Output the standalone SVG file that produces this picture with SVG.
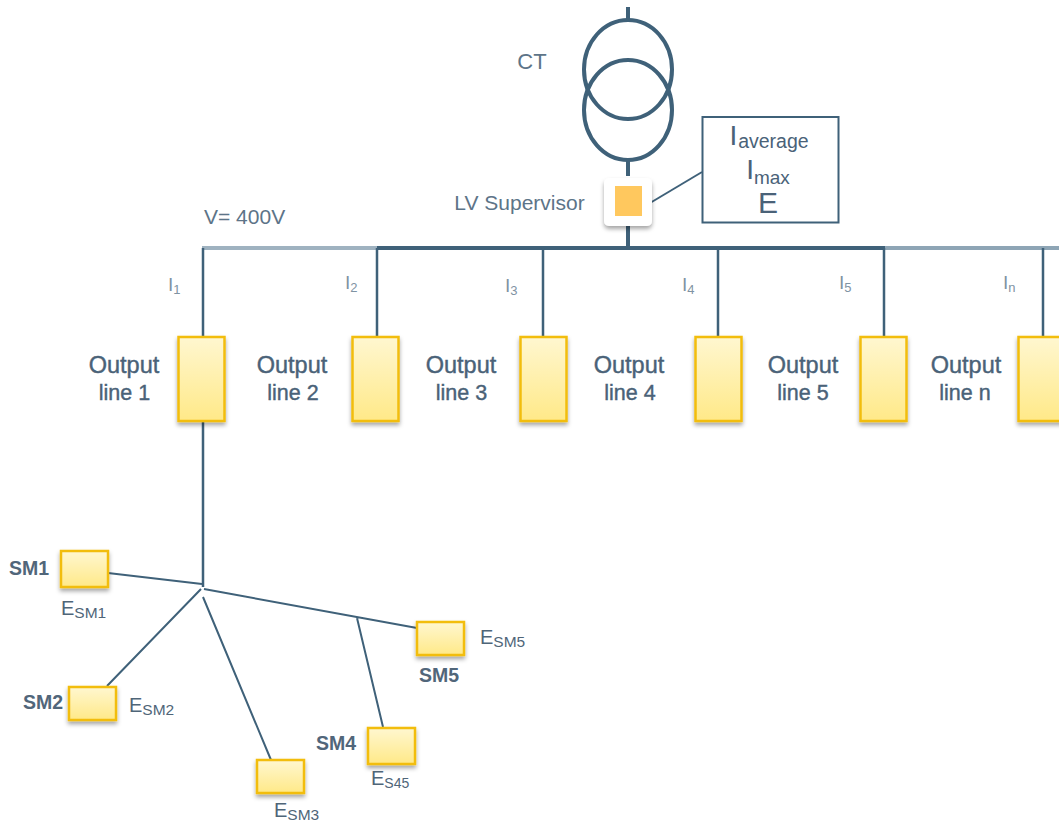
<svg xmlns="http://www.w3.org/2000/svg" width="1059" height="825" viewBox="0 0 1059 825">
<style>
text{font-family:"Liberation Sans",Arial,sans-serif;fill:#4a6278}
.lab{font-size:23.500px;text-anchor:middle;stroke:#4a6278;stroke-width:.4px}
.lab2{font-size:21.500px;text-anchor:middle;stroke:#4a6278;stroke-width:.4px}
.sm{font-size:19.500px;font-weight:700;fill:#51667a}
.i{font-size:19px;fill:#7f93a3}
.i tspan{font-size:13px}
.e{font-size:20px;fill:#4f6578}
.e tspan{font-size:15.500px}
.c{fill:none;stroke:#3f6179}
.box{fill:url(#g);stroke:#f2bd0c;stroke-width:2.5;filter:url(#s)}
</style>
<defs>
<linearGradient id="g" x1="0" y1="0" x2="0" y2="1"><stop offset="0" stop-color="#fff7d0"/><stop offset="1" stop-color="#ffe988"/></linearGradient>
<filter id="s" x="-30%" y="-30%" width="160%" height="160%"><feDropShadow dx="0" dy="3" stdDeviation="2.2" flood-color="#000" flood-opacity=".35"/></filter>
</defs>
<g id="connectors">
<path class="c" stroke-width="4" d="M628 7V20M628 160V176M628 226V248"/>
<path class="c" stroke-width="2" d="M650 203L702 172"/>
<path class="c" stroke-width="4" d="M377 248H885"/>
<path d="M202 248H377" fill="none" stroke="#9fb2c0" stroke-width="4"/>
<path d="M885 248H1059" fill="none" stroke="#8ea5b5" stroke-width="4"/>
<path class="c" stroke-width="2.500" d="M203 248V337M377 248V337M543 248V337M718 248V337M884 248V337M1043 248V337M203 421V587"/>
<path class="c" stroke-width="2" d="M108 573L202 584M204 589L417 628M201 589L107 686M203 597L271 760M357 618L383 727"/>
</g>
<g id="ct"><ellipse class="c" stroke-width="4" cx="628" cy="69.500" rx="44" ry="49.500"/><ellipse class="c" stroke-width="4" cx="628" cy="110" rx="44" ry="50"/><text x="532" y="69" text-anchor="middle" style="font-size:22px;fill:#5d7488">CT</text></g>
<g id="lv-supervisor"><rect x="604" y="178" width="48" height="48" rx="5" fill="#fff" filter="url(#s)"/><rect x="615" y="186" width="27" height="30" fill="#ffc85e"/><text x="519.500" y="210" text-anchor="middle" style="font-size:21px;fill:#5d7488">LV Supervisor</text></g>
<g id="readings"><rect x="702.500" y="117" width="136" height="105.500" fill="#fff" stroke="#3f6179" stroke-width="2"/>
<text x="769" y="145" text-anchor="middle" style="font-size:28px">I<tspan font-size="19.500" dx="1" dy="3">average</tspan></text>
<text x="768" y="179" text-anchor="middle" style="font-size:28px">I<tspan font-size="19" dy="5">max</tspan></text>
<text x="768" y="213" text-anchor="middle" style="font-size:30px">E</text></g>
<text x="204" y="224" style="font-size:21px;fill:#5d7488">V= 400V</text>
<g id="line1"><rect class="box" x="178.500" y="337" width="46" height="84"/><text class="lab" x="124" y="373">Output</text><text class="lab2" x="124.500" y="400">line 1</text><text class="i" x="168" y="291">I<tspan dy="3">1</tspan></text></g>
<g id="line2"><rect class="box" x="352.500" y="337" width="46" height="84"/><text class="lab" x="292" y="373">Output</text><text class="lab2" x="293" y="400">line 2</text><text class="i" x="345" y="289">I<tspan dy="3">2</tspan></text></g>
<g id="line3"><rect class="box" x="520.500" y="337" width="46" height="84"/><text class="lab" x="461" y="373">Output</text><text class="lab2" x="461.500" y="400">line 3</text><text class="i" x="505" y="292">I<tspan dy="3">3</tspan></text></g>
<g id="line4"><rect class="box" x="695.500" y="337" width="46" height="84"/><text class="lab" x="629" y="373">Output</text><text class="lab2" x="630" y="400">line 4</text><text class="i" x="682" y="291">I<tspan dy="3">4</tspan></text></g>
<g id="line5"><rect class="box" x="860.500" y="337" width="46" height="84"/><text class="lab" x="803" y="373">Output</text><text class="lab2" x="803" y="400">line 5</text><text class="i" x="839" y="289">I<tspan dy="3">5</tspan></text></g>
<g id="linen"><rect class="box" x="1018.500" y="337" width="46" height="84"/><text class="lab" x="966" y="373">Output</text><text class="lab2" x="965" y="400">line n</text><text class="i" x="1003" y="289">I<tspan dy="3">n</tspan></text></g>
<g id="sm1"><rect class="box" x="61" y="551" width="47" height="36"/><text class="sm" x="9" y="575">SM1</text><text class="e" x="61" y="615">E<tspan dy="3">SM1</tspan></text></g>
<g id="sm2"><rect class="box" x="69" y="687" width="47" height="33"/><text class="sm" x="23" y="709">SM2</text><text class="e" x="129" y="712">E<tspan dy="3">SM2</tspan></text></g>
<g id="sm3"><rect class="box" x="257" y="760" width="47" height="33"/><text class="e" x="274" y="817">E<tspan dy="3">SM3</tspan></text></g>
<g id="sm4"><rect class="box" x="368" y="728" width="47" height="36"/><text class="sm" x="316" y="750">SM4</text><text class="e" x="371" y="785">E<tspan dy="3" style="font-size:14px">S45</tspan></text></g>
<g id="sm5"><rect class="box" x="417" y="622" width="47" height="33"/><text class="sm" x="419" y="682">SM5</text><text class="e" x="480" y="644">E<tspan dy="3">SM5</tspan></text></g>
</svg>
